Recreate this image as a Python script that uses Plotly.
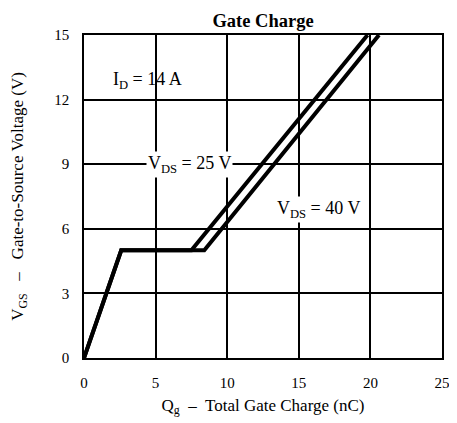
import plotly.graph_objects as go

# Gate charge curves
qg_25v = [0, 2.6, 7.5, 19.8]
vgs_25v = [0, 5, 5, 15]
qg_40v = [0, 2.6, 8.4, 20.6]
vgs_40v = [0, 5, 5, 15]

x_ticks = [0, 5, 10, 15, 20, 25]
y_ticks = [0, 3, 6, 9, 12, 15]

FONT = "Liberation Serif"


def main():

    fig = go.Figure()

    fig.add_trace(go.Scatter(x=qg_40v, y=vgs_40v, mode="lines",
                             line=dict(color="black", width=4), showlegend=False))
    fig.add_trace(go.Scatter(x=qg_25v, y=vgs_25v, mode="lines",
                             line=dict(color="black", width=4), showlegend=False))

    axis_common = dict(
        showgrid=True, gridcolor="black", gridwidth=1.5,
        showline=True, linecolor="black", linewidth=1.5, mirror=True,
        zeroline=False, ticks="", ticklabelstandoff=10, automargin=False,
        tickfont=dict(family=FONT, size=15, color="black"),
    )

    fig.update_xaxes(range=[0, 25], tickvals=x_ticks, **axis_common,
                     title=dict(text="Q<sub>g</sub>  –  Total Gate Charge (nC)",
                                font=dict(family=FONT, size=17, color="black"), standoff=9))
    fig.update_yaxes(range=[0, 15], tickvals=y_ticks, **axis_common,
                     title=dict(text="V<sub>GS</sub>   –   Gate-to-Source Voltage (V)",
                                font=dict(family=FONT, size=17, color="black"), standoff=26))

    # page body adds an 8 px margin, so the figure is shrunk by that much
    fig.update_layout(
        width=449, height=415,
        margin=dict(l=76, r=15, t=27, b=65),
        paper_bgcolor="white", plot_bgcolor="white",
        title=dict(text="<b>Gate Charge</b>", x=0.5, xanchor="center", xref="paper",
                   y=0.969, yanchor="middle",
                   font=dict(family=FONT, size=18.5, color="black")),
        annotations=[
            dict(x=4.4, y=12.9, text="I<sub>D</sub> = 14 A", showarrow=False,
                 font=dict(family=FONT, size=18, color="black")),
            dict(x=7.4, y=9, text="V<sub>DS</sub> = 25 V", showarrow=False,
                 bgcolor="white", font=dict(family=FONT, size=18, color="black")),
            dict(x=16.4, y=6.9, text="V<sub>DS</sub> = 40 V", showarrow=False,
                 bgcolor="white", font=dict(family=FONT, size=18, color="black")),
        ],
    )

    fig.write_html("out.html")


if __name__ == "__main__":

    main()
